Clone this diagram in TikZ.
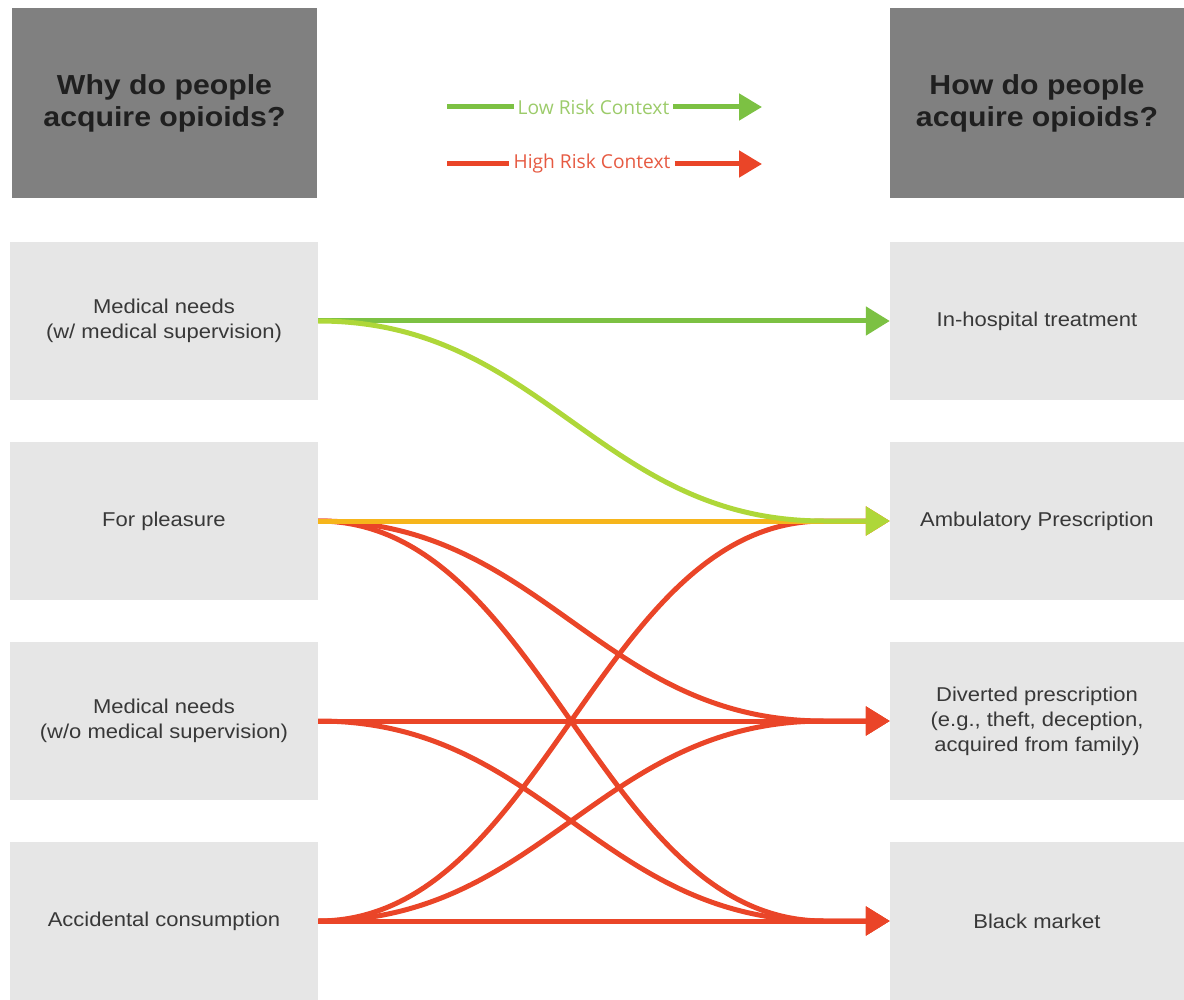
\documentclass[tikz,border=0pt]{standalone}
\usepackage{fontspec}
\setmainfont{Liberation Sans}[FakeStretch=1.1]
\newfontfamily\legendfont{Open Sans}
\usetikzlibrary{arrows.meta}
\definecolor{hdrgray}{HTML}{808080}
\definecolor{boxgray}{HTML}{E6E6E6}
\definecolor{lowgreen}{HTML}{7CC143}
\definecolor{ltgreen}{HTML}{AED739}
\definecolor{amber}{HTML}{F6B51B}
\definecolor{riskred}{HTML}{EA4528}
\definecolor{lowtxt}{HTML}{9CCB6A}
\definecolor{hightxt}{HTML}{E65A42}
\begin{document}
\begin{tikzpicture}[x=1pt,y=-1pt,
 hdr/.style={fill=hdrgray, text=black!88, font=\fontsize{27.5}{32}\selectfont\bfseries, align=center, inner sep=0pt, minimum height=190pt},
 box/.style={fill=boxgray, text=black!78, font=\fontsize{20}{25}\selectfont, align=center, inner sep=0pt, minimum height=158pt},
 lbox/.style={box, minimum width=308pt},
 rbox/.style={box, minimum width=294pt},
 legtxt/.style={font=\legendfont\fontsize{19.2}{22}\selectfont, inner sep=4pt},
 conn/.style={line width=5pt, -{Triangle[length=24pt,width=28pt]}},
 legline/.style={line width=5pt},
 legarrow/.style={line width=5pt, -{Triangle[length=23pt,width=26pt]}},
]
\useasboundingbox (0,0) rectangle (1184,1000);
% headers
\node[hdr, minimum width=305pt] (whyh) at (164.5,103) {Why do people\\acquire opioids?};
\node[hdr, minimum width=294pt] (howh) at (1037,103) {How do people\\acquire opioids?};
% left boxes
\node[lbox] (mw) at (164,321) {Medical needs\\(w/ medical supervision)};
\node[lbox] (pl) at (164,521) {For pleasure};
\node[lbox] (mo) at (164,721) {Medical needs\\(w/o medical supervision)};
\node[lbox] (ac) at (164,921) {Accidental consumption};
% right boxes
\node[rbox] (ih) at (1037,321) {In-hospital treatment};
\node[rbox] (ap) at (1037,521) {Ambulatory Prescription};
\node[rbox] (dv) at (1037,721) {Diverted prescription\\(e.g., theft, deception,\\acquired from family)};
\node[rbox] (bm) at (1037,921) {Black market};
% legend
\coordinate (ls) at (447,107);
\coordinate (le) at (762,107);
\node[legtxt, text=lowtxt] (lt) at (593.5,107) {Low Risk Context};
\draw[legline, lowgreen] (ls) -- (lt.west);
\draw[legarrow, lowgreen] (lt.east) -- (le);
\coordinate (hs) at (447,164);
\coordinate (he) at (762,164);
\node[legtxt, text=hightxt] (ht) at (592,164) {High Risk Context};
\draw[legline, riskred] (hs) -- (ht.west);
\draw[legarrow, riskred] (ht.east) -- (he);
% high risk curves
\draw[conn, riskred] (pl.east) .. controls +(225,0) and +(-225,0) .. ([xshift=-66pt]dv.west) -- (dv.west);
\draw[conn, riskred] (pl.east) .. controls +(225,0) and +(-225,0) .. ([xshift=-66pt]bm.west) -- (bm.west);
\draw[conn, riskred] (mo.east) .. controls +(225,0) and +(-225,0) .. ([xshift=-66pt]bm.west) -- (bm.west);
\draw[conn, riskred] (ac.east) .. controls +(225,0) and +(-225,0) .. ([xshift=-66pt]ap.west) -- (ap.west);
\draw[conn, riskred] (ac.east) .. controls +(225,0) and +(-225,0) .. ([xshift=-66pt]dv.west) -- (dv.west);
% high risk straight
\draw[conn, riskred] (mo.east) -- (dv.west);
\draw[conn, riskred] (ac.east) -- (bm.west);
% pleasure straight
\draw[conn, amber] (pl.east) -- (ap.west);
% low risk
\draw[conn, lowgreen] (mw.east) -- (ih.west);
\draw[conn, ltgreen] (mw.east) .. controls +(225,0) and +(-225,0) .. ([xshift=-66pt]ap.west) -- (ap.west);
\end{tikzpicture}
\end{document}
